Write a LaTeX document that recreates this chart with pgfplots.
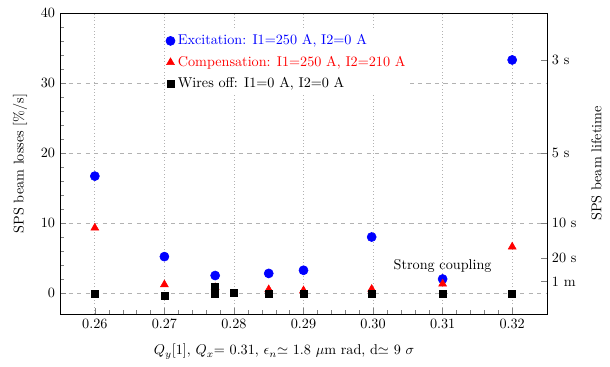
\documentclass[border=0pt]{standalone}
\usepackage{pgfplots}
\pgfplotsset{compat=1.18}
\begin{document}
\begin{tikzpicture}
\begin{axis}[
  name=main,
  scale only axis,
  width=343pt, height=212pt,
  xmin=0.255, xmax=0.325,
  ymin=-3, ymax=40,
  xtick={0.26,0.27,0.28,0.29,0.30,0.31,0.32},
  ytick={0,10,20,30,40},
  minor x tick num=4,
  minor y tick num=4,
  xtick pos=bottom, ytick pos=left,
  tick align=inside,
  xticklabel style={/pgf/number format/.cd, fixed, fixed zerofill, precision=2},
  xmajorgrids, ymajorgrids,
  x grid style={gray!60, dotted, line width=0.6pt},
  y grid style={gray!60, dashed, line width=0.5pt},
  xlabel={$Q_y$[1], $Q_x$= 0.31, $\epsilon_n$$\simeq$ 1.8 $\mu$m rad, d$\simeq$ 9 $\sigma$},
  xlabel style={at={(axis description cs:0.46,-0.125)}, anchor=center},
  ylabel={SPS beam losses [\%/s]},
  ylabel style={at={(axis description cs:-0.082,0.5)}, anchor=center},
  legend style={at={(0.214,0.943)}, anchor=north west, draw=none, fill=white,
    inner sep=1pt, row sep=2.5pt},
  legend cell align=left,
]
\addplot[only marks, mark=*, mark size=3.2pt, color=blue] coordinates {
  (0.26,16.7) (0.27,5.2) (0.2773,2.5) (0.285,2.8) (0.29,3.25)
  (0.2998,8.0) (0.31,2.0) (0.32,33.3)
};
\addlegendentry{\textcolor{blue}{Excitation: I1=250 A, I2=0 A}}
\addplot[only marks, mark=triangle*, mark size=3.2pt, color=red] coordinates {
  (0.26,9.3) (0.27,1.2) (0.2773,0.8) (0.285,0.5) (0.29,0.35)
  (0.2998,0.55) (0.31,1.3) (0.32,6.6)
};
\addlegendentry{\textcolor{red}{Compensation: I1=250 A, I2=210 A}}
\addplot[only marks, mark=square*, mark size=2.5pt, color=black] coordinates {
  (0.26,-0.15) (0.27,-0.35) (0.2773,0.9) (0.2773,-0.1) (0.28,0.05)
  (0.285,-0.15) (0.29,-0.1) (0.2998,-0.1) (0.31,-0.1) (0.32,-0.05)
};
\addlegendentry{Wires off: I1=0 A, I2=0 A}
\node at (axis cs:0.31,3.9) {Strong coupling};
\end{axis}
\begin{axis}[
  scale only axis,
  width=343pt, height=212pt,
  xmin=0.255, xmax=0.325,
  ymin=-3, ymax=40,
  axis x line=none,
  axis y line*=right,
  ytick pos=right,
  tick align=inside,
  ytick={1.6667,5,10,20,33.333},
  yticklabels={1 m,20 s,10 s,5 s,3 s},
  minor tick num=0,
  ylabel={SPS beam lifetime},
  ylabel style={at={(axis description cs:1.102,0.5)}, anchor=center},
]
\end{axis}
\path (main.south west) +(-42.3pt,-37.3pt) (main.north east) +(44.4pt,9.2pt);
\end{tikzpicture}
\end{document}
